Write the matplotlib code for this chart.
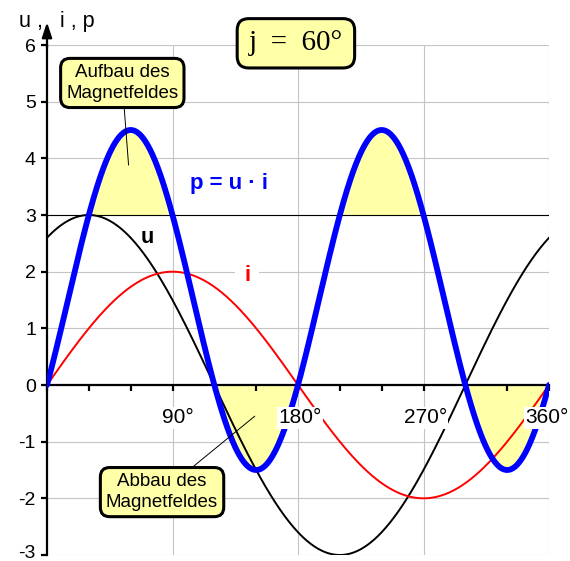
import numpy as np
import matplotlib
matplotlib.use("Agg")
import matplotlib.pyplot as plt
import matplotlib.transforms as mtransforms
from matplotlib import font_manager

# ---- data ----
u_amplitude = 3.0      # peak of u
i_amplitude = 2.0      # peak of i
phase_deg = 60.0       # phase shift of u relative to i
x_ticks_labeled = [90, 180, 270, 360]
x_tick_labels = ["90°", "180°", "270°", "360°"]
y_ticks = [-3, -2, -1, 0, 1, 2, 3, 4, 5, 6]
phase_label = "j  =  60°"

names = {f.name for f in font_manager.fontManager.ttflist}
sans = "Liberation Sans" if "Liberation Sans" in names else "DejaVu Sans"
narrow = "Liberation Sans Narrow" if "Liberation Sans Narrow" in names else sans
serif = "Liberation Serif" if "Liberation Serif" in names else "DejaVu Serif"
plt.rcParams['font.family'] = [sans, 'DejaVu Sans']

deg = np.linspace(0, 360, 721)
rad = np.deg2rad(deg)
u = u_amplitude * np.sin(rad + np.deg2rad(phase_deg))
i = i_amplitude * np.sin(rad)
p = u * i

fig = plt.figure(figsize=(5.70, 5.61), dpi=100)
ax = fig.add_axes([47/570, 1-555/561, (549-47)/570, (555-45)/561])
ax.set_xlim(0, 360)
ax.set_ylim(-3, 6)

yellow = "#FFFFA8"
ax.fill_between(deg, p, 3, where=p > 3, color=yellow, lw=0, interpolate=True, zorder=1)
ax.fill_between(deg, p, 0, where=p < 0, color=yellow, lw=0, interpolate=True, zorder=1)

# grid
for yv in y_ticks:
    if yv != 0:
        ax.axhline(yv, color="#C4C4C4", lw=0.8, zorder=0)
for xv in x_ticks_labeled:
    ax.axvline(xv, color="#C4C4C4", lw=0.8, zorder=0)
ax.axhline(3, color="black", lw=0.8, zorder=2)

ax.plot(deg, u, color="black", lw=1.4, zorder=3)
ax.plot(deg, i, color="red", lw=1.4, zorder=3)
ax.plot(deg, p, color="#0000FF", lw=4.2, zorder=4, solid_capstyle="round")

for s in ax.spines.values():
    s.set_visible(False)
ax.spines['bottom'].set_visible(True)
ax.spines['bottom'].set_position(('data', 0))
ax.spines['bottom'].set_linewidth(1.6)
ax.spines['bottom'].set_zorder(2.5)
ax.spines['left'].set_visible(True)
ax.spines['left'].set_linewidth(1.6)

ax.set_xticks(np.arange(0, 361, 30))
ax.set_xticklabels([])
ax.tick_params(axis='x', direction='out', length=4, width=1.6)
ax.set_yticks(y_ticks)
ax.set_yticklabels([str(v) for v in y_ticks], fontsize=14)
ax.tick_params(axis='y', direction='out', length=4, width=1.6, pad=4)
# nudge the bottom label up a little so it stays inside the figure
lab0 = ax.get_yticklabels()[0]
lab0.set_transform(lab0.get_transform() + mtransforms.ScaledTranslation(0, 3/100, fig.dpi_scale_trans))

# y-axis arrow
ax.annotate("", xy=(0, 6.45), xytext=(0, 5.9), xycoords='data',
            arrowprops=dict(arrowstyle="-|>,head_length=0.9,head_width=0.3", color="black", lw=1.6),
            annotation_clip=False)
ax.text(-3, 6.42, "u ,", ha="right", va="center", fontsize=15.5)
ax.text(9, 6.42, "i , p", ha="left", va="center", fontsize=15.5)

label_shift = [3.6, 1.6, 1.5, -1.6]
for xv, lab, dx in zip(x_ticks_labeled, x_tick_labels, label_shift):
    ax.text(xv + dx, -0.58, lab, ha="center", va="center", fontsize=15, zorder=6,
            bbox=dict(boxstyle="square,pad=0.06", fc="white", ec="none"))

# curve labels
wb = dict(boxstyle="square,pad=0.15", fc="white", ec="none")
ax.text(130.6, 3.56, "p = u · i", color="#0000FF", fontsize=16, fontweight="bold",
        ha="center", va="center", bbox=wb, zorder=5)
ax.text(72, 2.6, "u", color="black", fontsize=15.5, fontweight="bold", ha="center", va="center")
ax.text(143.5, 1.94, "i", color="red", fontsize=15.5, fontweight="bold", ha="center", va="center",
        bbox=dict(boxstyle="square,pad=0.4", fc="white", ec="none"), zorder=2.2)

# annotation boxes
box = dict(boxstyle="round,pad=0.3,rounding_size=0.5", fc="#FFFFA8", ec="black", lw=2.2)
ax.annotate("Aufbau des\nMagnetfeldes", xy=(58.5, 3.88), xytext=(54, 5.33),
            fontsize=13.5, family=[narrow, sans], ha="center", va="center", linespacing=1.3,
            bbox=box, arrowprops=dict(arrowstyle="-", color="black", lw=0.7, shrinkA=0, shrinkB=0), zorder=7)
ax.annotate("Abbau des\nMagnetfeldes", xy=(149, -0.55), xytext=(82.5, -1.89),
            fontsize=13.5, family=[narrow, sans], ha="center", va="center", linespacing=1.3,
            bbox=box, arrowprops=dict(arrowstyle="-", color="black", lw=0.7, shrinkA=0, shrinkB=0), zorder=7)
ax.text(178.5, 6.03, phase_label, fontsize=21, family=[serif], ha="center", va="center",
        bbox=dict(boxstyle="round,pad=0.4,rounding_size=0.4", fc="#FFFFA8", ec="black", lw=2.2), zorder=7)

fig.savefig("out.png", dpi=100)
